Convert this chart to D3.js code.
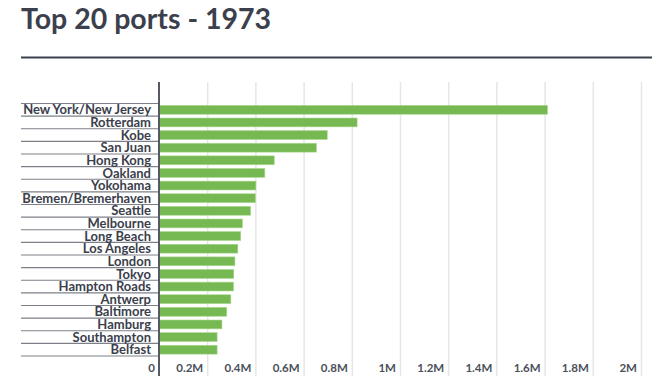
<!DOCTYPE html>
<html><head><meta charset="utf-8">
<script src="https://cdn.jsdelivr.net/npm/d3@7"></script>
<style>body{margin:0;background:#fff;} text{font-family:Lato,"Open Sans",sans-serif;}</style>
</head><body><svg id="c" width="670" height="380"></svg>
<script>
const ports = ["New York/New Jersey","Rotterdam","Kobe","San Juan","Hong Kong","Oakland","Yokohama","Bremen/Bremerhaven","Seattle","Melbourne","Long Beach","Los Angeles","London","Tokyo","Hampton Roads","Antwerp","Baltimore","Hamburg","Southampton","Belfast"];
const teu = [1610000,820000,696000,651000,476000,437000,400000,398000,378000,344000,337000,325000,313000,308000,307000,296000,279000,259000,239000,239000];
const tickValues = [0,200000,400000,600000,800000,1000000,1200000,1400000,1600000,1800000,2000000];
const tickLabels = ["0","0.2M","0.4M","0.6M","0.8M","1M","1.2M","1.4M","1.6M","1.8M","2M"];
const title = "Top 20 ports - 1973";

const svg = d3.select("#c");
const x = d3.scaleLinear().domain([0,2000000]).range([159.5,641.5]);
const y = d3.scaleBand().domain(ports).range([103.5,356]).paddingInner(0.3).paddingOuter(0.15);
const ink = "#3b404c";

svg.append("text").attr("x",21).attr("y",28.5).attr("font-size",28.5).attr("font-weight",700)
  .attr("fill",ink).text(title);
svg.append("line").attr("x1",21).attr("x2",652).attr("y1",57.5).attr("y2",57.5)
  .attr("stroke",ink).attr("stroke-width",2);

// gridlines
svg.append("g").selectAll("line").data(tickValues.slice(1)).join("line")
  .attr("x1",d=>x(d)).attr("x2",d=>x(d)).attr("y1",82).attr("y2",376)
  .attr("stroke","#e6e6e6").attr("stroke-width",1.5);

// row separators
const step = y.step();
const r0 = y.range()[0];
svg.append("g").selectAll("line").data(d3.range(ports.length+1)).join("line")
  .attr("x1",21).attr("x2",159).attr("y1",i=>r0+i*step).attr("y2",i=>r0+i*step)
  .attr("stroke","#7d8088").attr("stroke-width",1.2);

// bars
svg.append("g").selectAll("rect").data(ports).join("rect")
  .attr("x",x(0)).attr("y",d=>y(d)).attr("height",y.bandwidth())
  .attr("width",(d,i)=>x(teu[i])-x(0))
  .attr("fill","#76b852").attr("stroke","#a9d68f").attr("stroke-width",0.6);

// category labels
svg.append("g").selectAll("text").data(ports).join("text")
  .attr("x",151).attr("y",d=>y(d)+y.bandwidth()/2).attr("dy","0.36em")
  .attr("text-anchor","end").attr("font-size",13).attr("font-weight",700)
  .attr("fill",ink).text(d=>d);

// x axis labels
const xAxis = d3.axisBottom(x).tickValues(tickValues).tickFormat((d,i)=>tickLabels[i]).tickSize(0);
const ax = svg.append("g").attr("transform","translate(0,360)").call(xAxis);
ax.select(".domain").remove();
ax.selectAll("text").attr("text-anchor","end").attr("x",-5).attr("dy","0.71em").attr("y",4)
  .attr("font-size",11.5).attr("font-weight",700).attr("fill","#4a4f5a").style("font-family","Lato,sans-serif");

// axis line
svg.append("line").attr("x1",159).attr("x2",159).attr("y1",82).attr("y2",376)
  .attr("stroke","#555a63").attr("stroke-width",2);
</script></body></html>
